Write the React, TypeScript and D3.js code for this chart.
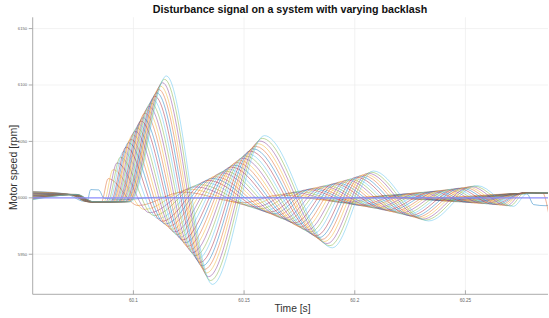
import React, { useEffect, useRef } from "react";
import * as d3 from "d3";

const xTicks = [60.1, 60.15, 60.2, 60.25];
const yTicks = [5950, 6000, 6050, 6100, 6150];
const lineColors = ["#0072BD", "#D95319", "#EDB120", "#7E2F8E", "#77AC30", "#4DBEEE", "#A2142F"];

// reference speed line
const referenceSpeed = 6000;

// smallest backlash run (drawn first, blue)
const firstRunT = [60.0545, 60.0696, 60.0777, 60.0791, 60.0807, 60.0843, 60.0868, 60.0962, 60.1121, 60.1301, 60.1572, 60.1889, 60.2205, 60.2521, 60.2778, 60.2808, 60.2864, 60.2878];
const firstRunV = [6005.6, 6003.5, 5997, 5997.2, 6007.3, 6007, 5999.5, 5998.6, 6000.6, 5999.7, 6000.5, 5999.8, 6000.3, 5999.9, 6003.5, 5994, 5993, 5994];

// key points of the other runs, one entry per backlash value
const startT = 60.0545;
const endT = 60.2878;
const bumpV = 6003;
const settleV = 5996.5;
const mergeV = 6004;
const endV = 6004.5;

const startV = [6005.3, 6005.0, 6004.7, 6004.5, 6004.2, 6003.9, 6003.6, 6003.3, 6003.1, 6002.8, 6002.5, 6002.2, 6001.9, 6001.7, 6001.4, 6001.1, 6000.8, 6000.5, 6000.3, 6000.0, 5999.7, 5999.4, 5999.1, 5998.9, 5998.6, 5998.3];
const bumpT = [60.0710, 60.0711, 60.0713, 60.0714, 60.0716, 60.0717, 60.0719, 60.0720, 60.0722, 60.0723, 60.0724, 60.0726, 60.0727, 60.0729, 60.0730, 60.0732, 60.0733, 60.0734, 60.0736, 60.0737, 60.0739, 60.0740, 60.0742, 60.0743, 60.0745, 60.0746];
const settleT = [60.0795, 60.0796, 60.0797, 60.0798, 60.0799, 60.0800, 60.0801, 60.0803, 60.0804, 60.0805, 60.0806, 60.0807, 60.0808, 60.0809, 60.0810, 60.0811, 60.0812, 60.0813, 60.0814, 60.0815, 60.0817, 60.0818, 60.0819, 60.0820, 60.0821, 60.0822];
const riseT = [60.0856, 60.0867, 60.0876, 60.0884, 60.0890, 60.0897, 60.0902, 60.0907, 60.0911, 60.0916, 60.0921, 60.0925, 60.0930, 60.0935, 60.0938, 60.0943, 60.0947, 60.0952, 60.0957, 60.0961, 60.0966, 60.0970, 60.0974, 60.0978, 60.0983, 60.0987];
const peak1T = [60.0886, 60.0908, 60.0926, 60.0941, 60.0955, 60.0967, 60.0978, 60.0988, 60.0997, 60.1007, 60.1016, 60.1025, 60.1034, 60.1043, 60.1052, 60.1061, 60.1070, 60.1079, 60.1088, 60.1097, 60.1106, 60.1115, 60.1123, 60.1132, 60.1141, 60.1149];
const peak1V = [6017, 6025, 6031, 6036, 6041, 6045, 6049, 6052, 6056, 6059, 6062, 6065, 6068, 6071, 6075, 6078, 6081, 6084, 6087, 6090, 6093, 6096, 6099, 6102, 6105, 6108];
const trough1T = [60.1021, 60.1050, 60.1073, 60.1093, 60.1112, 60.1129, 60.1144, 60.1158, 60.1172, 60.1185, 60.1197, 60.1210, 60.1222, 60.1234, 60.1246, 60.1257, 60.1268, 60.1280, 60.1290, 60.1301, 60.1311, 60.1321, 60.1330, 60.1339, 60.1348, 60.1357];
const trough1V = [5993.2, 5989.7, 5986.8, 5984.3, 5981.6, 5979.2, 5976.8, 5974.7, 5972.1, 5969.8, 5967.5, 5965.1, 5962.7, 5960.2, 5957.0, 5954.3, 5951.5, 5948.7, 5945.8, 5942.8, 5939.7, 5936.6, 5933.4, 5930.1, 5926.7, 5923.3];
const peak2T = [60.1224, 60.1254, 60.1279, 60.1300, 60.1320, 60.1338, 60.1355, 60.1370, 60.1385, 60.1399, 60.1413, 60.1427, 60.1441, 60.1454, 60.1467, 60.1479, 60.1492, 60.1505, 60.1516, 60.1528, 60.1540, 60.1551, 60.1561, 60.1571, 60.1582, 60.1592];
const peak2V = [6005.1, 6007.7, 6009.8, 6011.7, 6013.7, 6015.4, 6017.2, 6018.7, 6020.6, 6022.2, 6023.8, 6025.5, 6027.3, 6029.0, 6031.3, 6033.2, 6035.2, 6037.2, 6039.2, 6041.4, 6043.5, 6045.7, 6048.0, 6050.3, 6052.7, 6055.1];
const trough2T = [60.1496, 60.1527, 60.1553, 60.1575, 60.1597, 60.1617, 60.1635, 60.1651, 60.1668, 60.1683, 60.1699, 60.1714, 60.1729, 60.1744, 60.1758, 60.1772, 60.1786, 60.1800, 60.1813, 60.1827, 60.1840, 60.1852, 60.1864, 60.1876, 60.1888, 60.1899];
const trough2V = [5995.7, 5993.6, 5991.9, 5990.3, 5988.7, 5987.3, 5985.9, 5984.7, 5983.1, 5981.8, 5980.5, 5979.2, 5977.8, 5976.4, 5974.5, 5973.0, 5971.5, 5969.8, 5968.2, 5966.5, 5964.8, 5963.1, 5961.3, 5959.5, 5957.6, 5955.7];
const peak3T = [60.1663, 60.1695, 60.1721, 60.1745, 60.1767, 60.1787, 60.1806, 60.1823, 60.1841, 60.1857, 60.1873, 60.1889, 60.1905, 60.1920, 60.1935, 60.1950, 60.1965, 60.1979, 60.1993, 60.2007, 60.2021, 60.2034, 60.2047, 60.2060, 60.2072, 60.2084];
const peak3V = [6002.6, 6003.8, 6004.8, 6005.7, 6006.6, 6007.4, 6008.2, 6008.8, 6009.6, 6010.3, 6011.0, 6011.8, 6012.5, 6013.2, 6014.2, 6015.0, 6015.8, 6016.6, 6017.4, 6018.3, 6019.2, 6020.1, 6021.0, 6021.8, 6022.8, 6023.8];
const trough3T = [60.1888, 60.1921, 60.1949, 60.1973, 60.1996, 60.2018, 60.2038, 60.2056, 60.2074, 60.2091, 60.2108, 60.2125, 60.2141, 60.2158, 60.2174, 60.2189, 60.2205, 60.2221, 60.2235, 60.2250, 60.2265, 60.2279, 60.2293, 60.2306, 60.2319, 60.2333];
const trough3V = [5997.8, 5996.7, 5995.8, 5995.1, 5994.3, 5993.6, 5992.9, 5992.4, 5991.7, 5991.0, 5990.5, 5989.9, 5989.2, 5988.6, 5987.7, 5987.1, 5986.4, 5985.6, 5984.9, 5984.2, 5983.4, 5982.7, 5981.9, 5981.1, 5980.3, 5979.5];
const peak4T = [60.2092, 60.2126, 60.2154, 60.2179, 60.2202, 60.2225, 60.2245, 60.2264, 60.2283, 60.2300, 60.2319, 60.2337, 60.2353, 60.2370, 60.2387, 60.2403, 60.2420, 60.2436, 60.2452, 60.2467, 60.2483, 60.2498, 60.2512, 60.2526, 60.2540, 60.2554];
const peak4V = [6001.2, 6001.8, 6002.2, 6002.7, 6003.1, 6003.4, 6003.8, 6004.1, 6004.5, 6004.8, 6005.1, 6005.4, 6005.7, 6006.1, 6006.5, 6006.9, 6007.2, 6007.6, 6008.0, 6008.4, 6008.7, 6009.1, 6009.5, 6010.0, 6010.4, 6010.8];
const trough4T = [60.2241, 60.2275, 60.2304, 60.2330, 60.2353, 60.2376, 60.2398, 60.2417, 60.2436, 60.2454, 60.2473, 60.2491, 60.2509, 60.2527, 60.2543, 60.2561, 60.2578, 60.2594, 60.2611, 60.2627, 60.2643, 60.2658, 60.2673, 60.2688, 60.2702, 60.2716];
const trough4V = [5999.1, 5998.7, 5998.4, 5998.1, 5997.8, 5997.6, 5997.3, 5997.1, 5996.8, 5996.6, 5996.4, 5996.2, 5995.9, 5995.7, 5995.4, 5995.2, 5994.9, 5994.7, 5994.4, 5994.1, 5993.9, 5993.6, 5993.3, 5993.0, 5992.8, 5992.4];
const mergeT = [60.2756, 60.2756, 60.2756, 60.2756, 60.2756, 60.2756, 60.2756, 60.2756, 60.2756, 60.2756, 60.2756, 60.2756, 60.2756, 60.2756, 60.2756, 60.2756, 60.2756, 60.2756, 60.2756, 60.2756, 60.2756, 60.2756, 60.2756, 60.2756, 60.2765, 60.2780];

// second run already starts the next disturbance at the right edge
const secondRunTailT = [60.2848, 60.2878];
const secondRunTailV = [6004.4, 5984];

type Pt = [number, number];

const buildRuns = (): Pt[][] => {
  const runs: Pt[][] = [firstRunT.map((t, i) => [t, firstRunV[i]] as Pt)];
  peak1T.forEach((_, i) => {
    const pts: Pt[] = [
      [startT, startV[i]],
      [bumpT[i], bumpV],
      [settleT[i], settleV],
      [riseT[i], settleV],
      [peak1T[i], peak1V[i]],
      [trough1T[i], trough1V[i]],
      [peak2T[i], peak2V[i]],
      [trough2T[i], trough2V[i]],
      [peak3T[i], peak3V[i]],
      [trough3T[i], trough3V[i]],
      [peak4T[i], peak4V[i]],
      [trough4T[i], trough4V[i]],
      [mergeT[i], mergeV],
    ];
    if (i === 0) {
      secondRunTailT.forEach((t, j) => pts.push([t, secondRunTailV[j]]));
    } else {
      pts.push([endT, endV]);
    }
    runs.push(pts);
  });
  return runs;
};

export default function App() {
  const ref = useRef<SVGSVGElement>(null);

  useEffect(() => {
    const width = 549, height = 318;
    const margin = { top: 17.3, right: 1, bottom: 23.7, left: 32.7 };
    const svg = d3.select(ref.current);
    svg.selectAll("*").remove();

    const x = d3.scaleLinear().domain([60.0545, 60.2873]).range([margin.left, width - margin.right]);
    const y = d3.scaleLinear().domain([5914.5, 6160]).range([height - margin.bottom, margin.top]);
    const font = "'Liberation Sans', Arial, Helvetica, sans-serif";

    svg.append("rect").attr("width", width).attr("height", height).attr("fill", "#fff");

    // grid
    const grid = svg.append("g").attr("stroke", "#ececec").attr("stroke-width", 0.7);
    xTicks.forEach(t => grid.append("line")
      .attr("x1", x(t)).attr("x2", x(t)).attr("y1", margin.top).attr("y2", height - margin.bottom));
    yTicks.forEach(v => grid.append("line")
      .attr("x1", margin.left).attr("x2", width - margin.right).attr("y1", y(v)).attr("y2", y(v)));

    svg.append("clipPath").attr("id", "plot-clip")
      .append("rect")
      .attr("x", margin.left).attr("y", margin.top)
      .attr("width", width - margin.right - margin.left)
      .attr("height", height - margin.bottom - margin.top);

    const line = d3.line<Pt>()
      .x(d => x(d[0]))
      .y(d => y(d[1]))
      .curve(d3.curveMonotoneX);

    const body = svg.append("g").attr("clip-path", "url(#plot-clip)");
    buildRuns().forEach((pts, i) => {
      body.append("path")
        .attr("d", line(pts))
        .attr("fill", "none")
        .attr("stroke", lineColors[i % lineColors.length])
        .attr("stroke-width", 0.65)
        .attr("stroke-opacity", 0.7);
    });

    body.append("path")
      .attr("d", line([[60.0545, referenceSpeed], [60.2873, referenceSpeed]]))
      .attr("fill", "none")
      .attr("stroke", "#8f8fff")
      .attr("stroke-width", 1.3);

    // axes
    const axis = svg.append("g").attr("stroke", "#a3a3a3").attr("stroke-width", 0.9);
    axis.append("line").attr("x1", margin.left).attr("x2", margin.left)
      .attr("y1", margin.top).attr("y2", height - margin.bottom);
    axis.append("line").attr("x1", margin.left).attr("x2", width - margin.right)
      .attr("y1", height - margin.bottom).attr("y2", height - margin.bottom);
    xTicks.forEach(t => axis.append("line")
      .attr("x1", x(t)).attr("x2", x(t))
      .attr("y1", height - margin.bottom).attr("y2", height - margin.bottom - 4));
    yTicks.forEach(v => axis.append("line")
      .attr("x1", margin.left - 4).attr("x2", margin.left)
      .attr("y1", y(v)).attr("y2", y(v)));

    svg.append("g").selectAll("text").data(xTicks).enter().append("text")
      .attr("x", d => x(d)).attr("y", height - margin.bottom + 7.5)
      .attr("text-anchor", "middle")
      .attr("font-family", font).attr("font-size", 4.6).attr("fill", "#666")
      .text(d => String(d));

    svg.append("g").selectAll("text").data(yTicks).enter().append("text")
      .attr("x", margin.left - 5.5).attr("y", d => y(d) + 1.5)
      .attr("text-anchor", "end")
      .attr("font-family", font).attr("font-size", 4.2).attr("fill", "#666")
      .text(d => String(d));

    svg.append("text")
      .attr("x", 290).attr("y", 12.5)
      .attr("text-anchor", "middle")
      .attr("font-family", font).attr("font-size", 10.7).attr("font-weight", "bold")
      .attr("fill", "#111")
      .text("Disturbance signal on a system with varying backlash");

    svg.append("text")
      .attr("x", 292.5).attr("y", 312)
      .attr("text-anchor", "middle")
      .attr("font-family", font).attr("font-size", 10.3).attr("fill", "#333")
      .text("Time [s]");

    svg.append("text")
      .attr("transform", "translate(17.3,167.5) rotate(-90)")
      .attr("text-anchor", "middle")
      .attr("font-family", font).attr("font-size", 10.5).attr("fill", "#333")
      .text("Motor speed [rpm]");
  }, []);

  return (
    <svg
      ref={ref}
      width={549}
      height={318}
      style={{ position: "absolute", left: 0, top: 0, display: "block" }}
    />
  );
}
